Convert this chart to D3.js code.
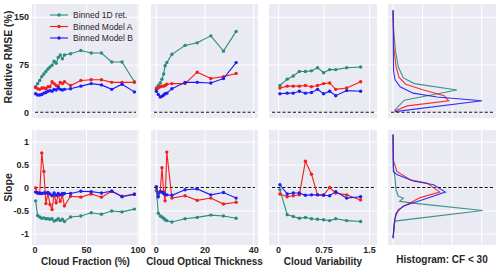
<!DOCTYPE html>
<html><head><meta charset="utf-8">
<script src="https://cdn.jsdelivr.net/npm/d3@7"></script>
<style>
html,body{margin:0;padding:0;background:#fff;}
svg{display:block;font-family:"Liberation Sans",Arial,sans-serif;}
</style></head>
<body>
<svg id="c" width="500" height="270"></svg>
<script>
// ---------------- data ----------------
const seriesNames = ["Binned 1D ret.", "Binned Model A", "Binned Model B"];
const seriesColors = ["#2a8a7f", "#f51c1c", "#1c1cf5"];

const cfX = [1,3,5,7,9,11,13,15,17,19,21,23,25,27,29,35,45,55,65,75,85,97];
const cfRmse1D = [40,45,50,56,60,64,68,71,74,80,77,86,90,84,90,92,97,93,93,79,79,48];
const cfRmseA  = [39,37,36,38,38,37,40,40,48,45,42,41,47,45,48,42,50,51,51,47,47,47];
const cfRmseB  = [29,27,27,28,30,31,33,34,33,36,35,38,36,35,36,37,41,45,43,36,44,32];
const cfSlope1D = [-0.29,-0.61,-0.64,-0.67,-0.66,-0.68,-0.68,-0.69,-0.68,-0.73,-0.71,-0.68,-0.72,-0.69,-0.74,-0.64,-0.62,-0.55,-0.58,-0.51,-0.53,-0.47];
const cfSlopeA  = [-0.01,-0.12,-0.13,0.75,0.35,-0.35,-0.13,-0.37,-0.48,-0.15,-0.33,-0.17,-0.30,-0.17,-0.40,-0.19,-0.21,-0.14,-0.21,-0.08,-0.19,-0.14];
const cfSlopeB  = [-0.10,-0.12,-0.12,-0.13,-0.12,-0.12,-0.11,-0.14,-0.18,-0.12,-0.17,-0.13,-0.16,-0.13,-0.13,-0.13,-0.08,-0.09,-0.12,-0.08,-0.20,-0.15];

const cotX = [0.2,1,1.8,2.5,3.2,3.8,4.5,6.6,12,17,22.6,27.8,33];
const cotRmse1D = [38,42,46,52,60,73,78,91,105,109,120,96,127];
const cotRmseA  = [36,38,40,41,41,42,44,45,45,63,53,56,61];
const cotRmseB  = [33,28,24,25,27,29,30,37,47,47,46,53,78];
const cotSlope1D = [-0.07,-0.56,-0.62,-0.64,-0.67,-0.70,-0.72,-0.75,-0.68,-0.65,-0.60,-0.62,-0.67];
const cotSlopeA  = [-0.01,-0.12,-0.09,0.43,-0.09,-0.29,0.77,-0.23,-0.18,-0.28,-0.23,-0.36,-0.32];
const cotSlopeB  = [0.02,-0.20,-0.09,-0.10,-0.13,-0.15,-0.16,-0.17,-0.05,-0.03,-0.16,-0.11,-0.23];

const cvX = [0.03,0.15,0.25,0.35,0.45,0.55,0.65,0.75,0.85,0.95,1.13,1.36];
const cvRmse1D = [42,52,57,64,64,65,70,62,67,67,70,71];
const cvRmseA  = [38,41,41,41,42,40,42,45,46,36,38,48];
const cvRmseB  = [29,30,30,33,30,31,36,29,33,26,34,33];
const cvSlope1D = [-0.05,-0.59,-0.63,-0.67,-0.65,-0.68,-0.69,-0.70,-0.72,-0.68,-0.72,-0.74];
const cvSlopeA  = [-0.14,-0.20,-0.18,-0.16,0.57,0.29,-0.16,-0.16,0.00,-0.12,-0.16,-0.27];
const cvSlopeB  = [0.06,-0.14,-0.12,-0.12,-0.17,-0.16,-0.16,-0.17,-0.18,-0.09,-0.23,-0.20];

// histograms (CF < 30): value along y, density along x
const hRmse1DV = [3,19,35,45,54,71,97,130,160];
const hRmse1DD = [0.07,0.40,2.18,0.74,0.37,0.20,0.10,0.04,0.02];
const hRmseAV  = [2,10,18,26,35,44,55,72,100,160];
const hRmseAD  = [0.08,0.50,1.90,1.75,1.05,0.45,0.22,0.12,0.05,0.02];
const hRmseBV  = [1,18,24,30,40,51,64,100,160];
const hRmseBD  = [0.08,3.03,1.50,0.70,0.26,0.09,0.04,0.03,0.02];
const hSlope1DV = [1.15,0.45,0.25,-0.05,-0.19,-0.23,-0.30,-0.34,-0.50,-0.73,-1.10];
const hSlope1DD = [0.02,0.03,0.08,0.12,0.20,0.37,0.24,0.70,3.05,0.08,0.02];
const hSlopeAV  = [1.15,0.60,0.35,0.17,0.10,-0.10,-0.22,-0.37,-0.48,-0.66,-1.10];
const hSlopeAD  = [0.02,0.03,0.15,0.60,1.16,1.60,0.94,0.49,0.20,0.09,0.02];
const hSlopeBV  = [1.15,0.35,0.28,0.14,0.06,-0.10,-0.26,-0.40,-0.55,-0.76,-1.10];
const hSlopeBD  = [0.02,0.03,0.15,0.70,1.39,1.79,1.05,0.37,0.13,0.06,0.02];

const rmseTicks = [0,75,150];
const slopeTicks = [-1,-0.5,0,0.5,1];
const cfTicks = [0,50,100];
const cotTicks = [0,20,40];
const cvTicks = [0,0.75,1.5];
const histTicks = [0,1,2,3];
const xLabels = ["Cloud Fraction (%)","Cloud Optical Thickness","Cloud Variability","Histogram: CF < 30"];
const yLabels = ["Relative RMSE (%)","Slope"];

// ---------------- layout ----------------
const svg = d3.select("#c");
const cols = [[32,139],[151,258],[269,377],[388,496]];
const rows = [[4,118],[130,245]];
const xDomains = [[-2.5,101.5],[-2,42],[-0.15,1.63],[-0.15,3.5]];
const xTickSets = [cfTicks,cotTicks,cvTicks,histTicks];
const xTickFmt = [d=>d, d=>d, d=>(d===0?"0":String(d)), d=>""];
const yScales = [
  d3.scaleLinear().domain([-9,170]).range([rows[0][1],rows[0][0]]),
  d3.scaleLinear().domain([-1.25,1.25]).range([rows[1][1],rows[1][0]])
];
const yTickSets = [rmseTicks, slopeTicks];
const xScales = cols.map((c,i)=>d3.scaleLinear().domain(xDomains[i]).range([c[0],c[1]]));

const panelData = [
  [ {x:cfX, ys:[cfRmse1D,cfRmseA,cfRmseB]}, {x:cotX, ys:[cotRmse1D,cotRmseA,cotRmseB]}, {x:cvX, ys:[cvRmse1D,cvRmseA,cvRmseB]},
    {hist:[[hRmse1DV,hRmse1DD],[hRmseAV,hRmseAD],[hRmseBV,hRmseBD]]} ],
  [ {x:cfX, ys:[cfSlope1D,cfSlopeA,cfSlopeB]}, {x:cotX, ys:[cotSlope1D,cotSlopeA,cotSlopeB]}, {x:cvX, ys:[cvSlope1D,cvSlopeA,cvSlopeB]},
    {hist:[[hSlope1DV,hSlope1DD],[hSlopeAV,hSlopeAD],[hSlopeBV,hSlopeBD]]} ]
];

const textColor = "#262626";

rows.forEach((r,ri)=>{
  const ys = yScales[ri];
  cols.forEach((c,ci)=>{
    const xs = xScales[ci];
    const g = svg.append("g");
    const clipId = `clip${ri}${ci}`;
    svg.append("clipPath").attr("id",clipId).append("rect")
      .attr("x",c[0]).attr("y",r[0]).attr("width",c[1]-c[0]).attr("height",r[1]-r[0]);
    g.append("rect").attr("x",c[0]).attr("y",r[0]).attr("width",c[1]-c[0]).attr("height",r[1]-r[0]).attr("fill","#eaeaf2");
    // grid
    const gy = d3.axisLeft(ys).tickValues(yTickSets[ri]).tickSize(-(c[1]-c[0])).tickFormat("");
    g.append("g").attr("transform",`translate(${c[0]},0)`).call(gy)
      .call(s=>s.select(".domain").remove())
      .call(s=>s.selectAll("line").attr("stroke","#ffffff").attr("stroke-width",1));
    const gx = d3.axisBottom(xs).tickValues(xTickSets[ci]).tickSize(-(r[1]-r[0])).tickFormat("");
    g.append("g").attr("transform",`translate(0,${r[1]})`).call(gx)
      .call(s=>s.select(".domain").remove())
      .call(s=>s.selectAll("line").attr("stroke","#ffffff").attr("stroke-width",1));
    // zero dashed line
    g.append("line").attr("x1",c[0]+3).attr("x2",c[1]-3).attr("y1",ys(0)).attr("y2",ys(0))
      .attr("stroke","#111").attr("stroke-width",1.1).attr("stroke-dasharray","3.2,2");
    const pd = panelData[ri][ci];
    const dg = g.append("g").attr("clip-path",`url(#${clipId})`);
    if (pd.hist) {
      pd.hist.forEach((h,si)=>{
        const pts = h[0].map((v,i)=>[h[1][i],v]);
        dg.append("path").attr("d", d3.line().x(d=>xs(d[0])).y(d=>ys(d[1]))(pts))
          .attr("fill","none").attr("stroke",seriesColors[si]).attr("stroke-width",1.1).attr("stroke-opacity",0.9);
      });
    } else {
      pd.ys.forEach((arr,si)=>{
        const pts = pd.x.map((x,i)=>[x,arr[i]]);
        dg.append("path").attr("d", d3.line().x(d=>xs(d[0])).y(d=>ys(d[1]))(pts))
          .attr("fill","none").attr("stroke",seriesColors[si]).attr("stroke-width",1.1);
        dg.selectAll(null).data(pts).enter().append("circle")
          .attr("cx",d=>xs(d[0])).attr("cy",d=>ys(d[1])).attr("r",1.7).attr("fill",seriesColors[si]);
      });
    }
    // tick labels
    if (ci===0) {
      const ay = d3.axisLeft(ys).tickValues(yTickSets[ri]).tickSize(0).tickPadding(3)
        .tickFormat(d=>d===0?"0":String(d));
      g.append("g").attr("transform",`translate(${c[0]},0)`).call(ay)
        .call(s=>s.select(".domain").remove())
        .call(s=>s.selectAll("text").attr("fill",textColor).style("font-size","9px").style("font-weight","bold")
          .style("font-family","'Liberation Sans',Arial,sans-serif"));
    }
    if (ri===1) {
      const ax = d3.axisBottom(xs).tickValues(xTickSets[ci]).tickSize(0).tickPadding(2).tickFormat(xTickFmt[ci]);
      g.append("g").attr("transform",`translate(0,${r[1]})`).call(ax)
        .call(s=>s.select(".domain").remove())
        .call(s=>s.selectAll("text").attr("fill",textColor).style("font-size","9px").style("font-weight","bold")
          .style("font-family","'Liberation Sans',Arial,sans-serif"));
      svg.append("text").attr("x",(c[0]+c[1])/2).attr("y", ci===3?263:265).attr("text-anchor","middle")
        .attr("fill",textColor).style("font-size","10px").style("font-weight","bold").text(xLabels[ci]);
    }
  });
  svg.append("text").attr("transform",`translate(12,${(r[0]+r[1])/2 + (ri===0?-4:0)}) rotate(-90)`)
    .attr("text-anchor","middle").attr("fill",textColor).style("font-size","10.5px").style("font-weight","bold")
    .text(yLabels[ri]);
});

// legend
const lg = svg.append("g");
seriesNames.forEach((n,i)=>{
  const y = 15 + i*11.5;
  lg.append("line").attr("x1",50).attr("x2",68).attr("y1",y).attr("y2",y).attr("stroke",seriesColors[i]).attr("stroke-width",1.1);
  lg.append("circle").attr("cx",59).attr("cy",y).attr("r",1.7).attr("fill",seriesColors[i]);
  lg.append("text").attr("x",73).attr("y",y+3).attr("fill",textColor).style("font-size","8.5px").text(n);
});
</script>
</body></html>
